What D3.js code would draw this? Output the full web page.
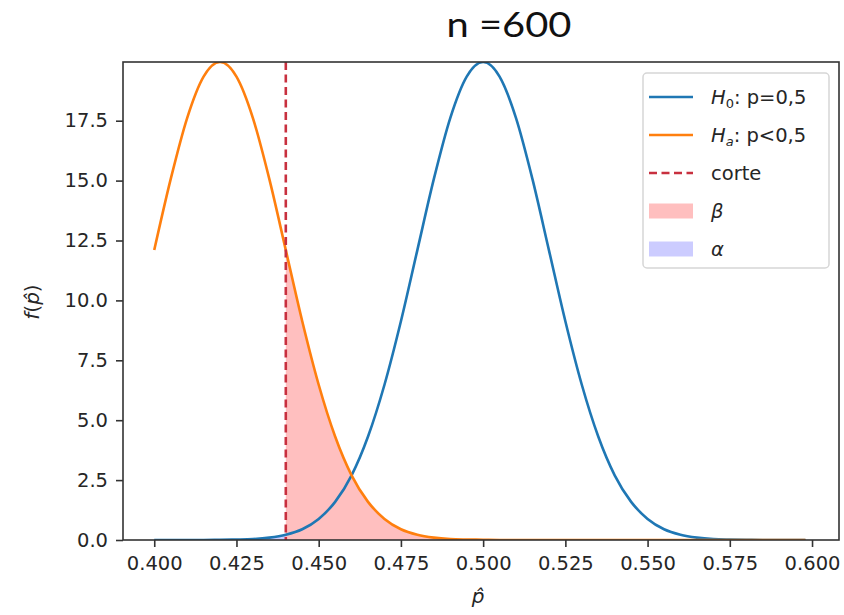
<!DOCTYPE html>
<meta charset='utf-8'>
<style>
  body { margin: 0; background: #fff; }
  text { font-family: "DejaVu Sans", sans-serif; fill: #262626; }
  .title { font-family: "Lato", "Inter", sans-serif; fill: #111; }
  .axis path, .axis line { stroke: #333; }
</style>
<body></body>
<script src="https://d3js.org/d3.v7.min.js"></script>
<script>

// values
const phat = [0.400, 0.405, 0.410, 0.415, 0.420, 0.425, 0.430, 0.435, 0.440, 0.445,
              0.450, 0.455, 0.460, 0.465, 0.470, 0.475, 0.480, 0.485, 0.490, 0.495,
              0.500, 0.505, 0.510, 0.515, 0.520, 0.525, 0.530, 0.535, 0.540, 0.545,
              0.550, 0.555, 0.560, 0.565, 0.570, 0.575, 0.580, 0.585, 0.590, 0.595, 0.598];
const h0 = [0.00, 0.00, 0.00, 0.00, 0.01, 0.02, 0.04, 0.10, 0.22, 0.45,
            0.88, 1.59, 2.70, 4.32, 6.48, 9.13, 12.10, 15.06, 17.61, 19.34,
            19.95, 19.34, 17.61, 15.06, 12.10, 9.13, 6.48, 4.32, 2.70, 1.59,
            0.88, 0.45, 0.22, 0.10, 0.04, 0.02, 0.01, 0.00, 0.00, 0.00, 0.00];
const ha = [12.10, 15.06, 17.61, 19.34, 19.95, 19.34, 17.61, 15.06, 12.10, 9.13,
            6.48, 4.32, 2.70, 1.59, 0.88, 0.45, 0.22, 0.10, 0.04, 0.02,
            0.01, 0.00, 0.00, 0.00, 0.00, 0.00, 0.00, 0.00, 0.00, 0.00,
            0.00, 0.00, 0.00, 0.00, 0.00, 0.00, 0.00, 0.00, 0.00, 0.00, 0.00];
const corte = 0.44;
const xTicks = [0.400, 0.425, 0.450, 0.475, 0.500, 0.525, 0.550, 0.575, 0.600];
const yTicks = [0.0, 2.5, 5.0, 7.5, 10.0, 12.5, 15.0, 17.5];
const legendLabels = ['H0', 'Ha', 'corte', 'β', 'α'];

const W = 844, H = 615;
const m = {left: 123, right: 5, top: 62, bottom: 75};
const w = W - m.left - m.right, h = H - m.top - m.bottom;

const svg = d3.select('body').append('svg').attr('width', W).attr('height', H);
const g = svg.append('g').attr('transform', `translate(${m.left},${m.top})`);

const x = d3.scaleLinear().domain([0.3905, 0.6082]).range([0, w]);
const y = d3.scaleLinear().domain([0, 19.95]).range([h, 0]);

const data = phat.map((p, i) => ({p: p, h0: h0[i], ha: ha[i]}));

const line = key => d3.line().x(d => x(d.p)).y(d => y(d[key])).curve(d3.curveMonotoneX);
const area = key => d3.area().x(d => x(d.p)).y0(h).y1(d => y(d[key])).curve(d3.curveMonotoneX);

g.append('clipPath').attr('id', 'clip')
  .append('rect').attr('width', w).attr('height', h);
const plot = g.append('g').attr('clip-path', 'url(#clip)');

// beta and alpha regions
plot.append('path')
  .attr('d', area('ha')(data.filter(d => d.p >= corte)))
  .attr('fill', 'red').attr('fill-opacity', 0.25);
plot.append('path')
  .attr('d', area('h0')(data.filter(d => d.p <= corte)))
  .attr('fill', 'blue').attr('fill-opacity', 0.2);

plot.append('path').attr('d', line('h0')(data))
  .attr('fill', 'none').attr('stroke', '#1f77b4').attr('stroke-width', 2.6);
plot.append('path').attr('d', line('ha')(data))
  .attr('fill', 'none').attr('stroke', '#ff7f0e').attr('stroke-width', 2.6);

plot.append('line')
  .attr('x1', x(corte)).attr('x2', x(corte)).attr('y1', 0).attr('y2', h)
  .attr('stroke', '#c8303f').attr('stroke-width', 2.6).attr('stroke-dasharray', '8,4.5');

// axes
const xAxis = g.append('g').attr('class', 'axis').attr('transform', `translate(0,${h})`)
  .call(d3.axisBottom(x).tickValues(xTicks).tickFormat(d3.format('.3f')).tickSize(7).tickPadding(9));
const yAxis = g.append('g').attr('class', 'axis')
  .call(d3.axisLeft(y).tickValues(yTicks).tickFormat(d3.format('.1f')).tickSize(7).tickPadding(8));
[xAxis, yAxis].forEach(a => {
  a.select('.domain').remove();
  a.selectAll('line').attr('stroke-width', 1.6);
  a.selectAll('text').style('font-size', '19.5px').attr('fill', '#262626');
});

g.append('rect').attr('width', w).attr('height', h)
  .attr('fill', 'none').attr('stroke', '#333').attr('stroke-width', 1.6);

// labels
svg.append('text').attr('class', 'title')
  .attr('x', 509).attr('y', 37).attr('text-anchor', 'middle')
  .style('font-size', '34px').attr('textLength', 125).attr('lengthAdjust', 'spacingAndGlyphs')
  .text('n =600');

svg.append('text').attr('x', x(0.5) + m.left - 5).attr('y', 603)
  .attr('text-anchor', 'middle').style('font-size', '20px').style('font-style', 'italic')
  .text('p\u0302');

const yl = svg.append('text')
  .attr('transform', 'translate(39,302) rotate(-90)')
  .attr('text-anchor', 'middle').style('font-size', '20px');
yl.append('tspan').style('font-style', 'italic').text('f');
yl.append('tspan').text('(');
yl.append('tspan').style('font-style', 'italic').text('p\u0302');
yl.append('tspan').text(')');

// legend
const lg = svg.append('g').attr('transform', 'translate(643,73)');
lg.append('rect').attr('width', 186).attr('height', 195).attr('rx', 4)
  .attr('fill', '#fff').attr('fill-opacity', 0.8).attr('stroke', '#d6d6d6').attr('stroke-width', 1.5);

const rowY = i => 24 + i * 38;
const items = lg.selectAll('g.item').data(legendLabels).enter()
  .append('g').attr('class', 'item').attr('transform', (d, i) => `translate(0,${rowY(i)})`);

items.each(function(d, i) {
  const s = d3.select(this);
  if (i < 3) {
    s.append('line').attr('x1', 6).attr('x2', 50)
      .attr('stroke', ['#1f77b4', '#ff7f0e', '#c8303f'][i]).attr('stroke-width', 2.6)
      .attr('stroke-dasharray', i === 2 ? '8,4.5' : null);
  } else {
    s.append('rect').attr('x', 6).attr('y', -7.5).attr('width', 44).attr('height', 15)
      .attr('fill', i === 3 ? 'red' : 'blue').attr('fill-opacity', i === 3 ? 0.25 : 0.2);
  }
  const t = s.append('text').attr('x', 68).attr('y', 7).style('font-size', '19.5px');
  if (i === 0 || i === 1) {
    t.append('tspan').style('font-style', 'italic').text('H');
    t.append('tspan').attr('dy', 4).style('font-size', '13px').style('font-style', i === 1 ? 'italic' : 'normal')
      .text(i === 0 ? '0' : 'a');
    t.append('tspan').attr('dy', -4).text(i === 0 ? ': p=0,5' : ': p<0,5');
  } else if (i === 2) {
    t.text('corte');
  } else {
    t.style('font-style', 'italic').text(d);
  }
});

</script>
